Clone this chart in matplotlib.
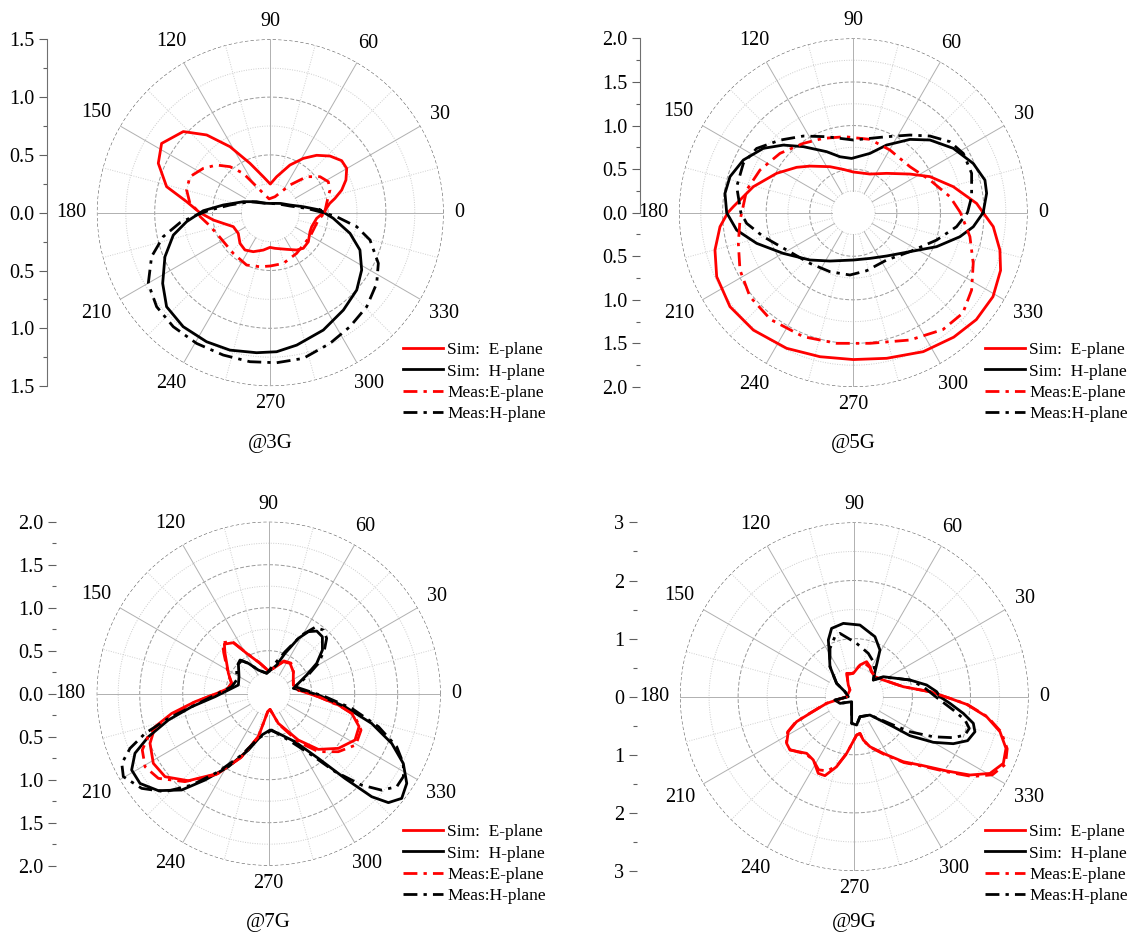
import numpy as np
import matplotlib
matplotlib.use("Agg")
import matplotlib.pyplot as plt
import matplotlib.transforms as mtransforms
from matplotlib.ticker import MultipleLocator, FuncFormatter

plt.rcParams['font.family'] = ['Liberation Serif', 'DejaVu Serif']

# ---------------- data (angle in degrees, normalized gain) ----------------
# @3G
theta_3g_sim_e = [0, 8.9, 12.5, 17.6, 23.4, 30.1, 36.1, 43.5, 51.1, 58.7, 67.6, 80, 90, 101, 112.4, 121.4, 129.3,
                  137, 147.5, 156.2, 165.9, 172.5, 180, 187.3, 192.8, 200.7, 212.9, 225.3, 235.8, 246.4, 259.4,
                  269.4, 277.5, 294, 305.2, 312.8, 322.6, 334.4, 341.3, 353]
r_3g_sim_e = [0.46, 0.52, 0.573, 0.648, 0.713, 0.764, 0.764, 0.712, 0.638, 0.55, 0.446, 0.316, 0.248, 0.317, 0.462,
              0.669, 0.869, 1.029, 1.115, 1.059, 0.925, 0.73, 0.609, 0.497, 0.417, 0.342, 0.33, 0.373, 0.39, 0.368,
              0.329, 0.30, 0.311, 0.347, 0.395, 0.42, 0.414, 0.381, 0.378, 0.404]
theta_3g_meas_e = [0, 9.4, 20.8, 28.1, 35.9, 44.7, 54.6, 73.7, 95, 112.4, 120, 124.5, 131.2, 138.4, 146.5, 155.9,
                   164.8, 173.4, 180, 183, 190, 201, 227.7, 245.7, 259.2, 270, 284.4, 302.9, 328.8, 351.3]
r_3g_meas_e = [0.47, 0.494, 0.552, 0.569, 0.531, 0.443, 0.294, 0.144, 0.12, 0.197, 0.293, 0.413, 0.529, 0.621,
               0.695, 0.762, 0.75, 0.70, 0.61, 0.61, 0.55, 0.498, 0.476, 0.497, 0.476, 0.461, 0.453, 0.419, 0.401,
               0.42]
theta_3g_sim_h = [3.1, 10.3, 21.3, 41.9, 60, 90, 120, 141.2, 157.8, 170.7, 178.3, 186.1, 193, 202.7, 213.3, 222.2,
                  232.6, 243.7, 253.6, 264.4, 272.6, 281.3, 294.3, 306.9, 318.2, 327.9, 337.4, 345.5, 354.9]
r_3g_sim_h = [0.43, 0.29, 0.183, 0.12, 0.093, 0.08, 0.095, 0.152, 0.252, 0.412, 0.58, 0.728, 0.861, 0.988, 1.114,
              1.211, 1.241, 1.245, 1.239, 1.217, 1.204, 1.168, 1.114, 1.053, 1.003, 0.933, 0.84, 0.712, 0.547]
theta_3g_meas_h = [0, 6.8, 18.7, 50, 90, 130, 151.6, 169.2, 177.5, 181.8, 186.3, 192.6, 200.3, 210.1, 219.6, 229.6,
                   240.6, 251.7, 262.2, 272.4, 282.8, 294.5, 304.9, 315.7, 326.4, 334.9, 344.7, 350.8, 356.5]
r_3g_meas_h = [0.46, 0.317, 0.18, 0.1, 0.08, 0.11, 0.2, 0.355, 0.523, 0.638, 0.786, 0.949, 1.095, 1.22, 1.276,
               1.295, 1.298, 1.297, 1.301, 1.299, 1.292, 1.243, 1.203, 1.165, 1.105, 1.032, 0.894, 0.757, 0.575]

# @5G
theta_5g_sim_e = [0, 4.3, 14.6, 25.2, 34.3, 49.7, 66.7, 90, 103, 116.9, 132.9, 141.3, 152.8, 165.4, 177.1, 180,
                  186, 195.1, 205.1, 217.3, 229.6, 243.8, 257, 270, 282.9, 296.7, 308.9, 319, 329, 338.6, 345.7,
                  354.3]
r_5g_sim_e = [1.49, 1.419, 1.185, 0.972, 0.787, 0.592, 0.483, 0.467, 0.51, 0.592, 0.73, 0.833, 0.989, 1.185, 1.378,
              1.44, 1.538, 1.644, 1.731, 1.779, 1.769, 1.734, 1.696, 1.685, 1.714, 1.785, 1.835, 1.870, 1.870,
              1.815, 1.736, 1.614]
theta_5g_meas_e = [0, 9.4, 23.1, 39.1, 59.7, 77.2, 96.3, 112, 125.8, 141, 155.4, 168, 180, 183.7, 194.9, 206.8,
                   219.1, 232.2, 248, 262.7, 270, 277.3, 294, 307.5, 317.5, 326.8, 337.1, 348.4]
r_5g_meas_e = [1.23, 1.124, 0.956, 0.837, 0.833, 0.863, 0.877, 0.92, 0.981, 1.082, 1.177, 1.251, 1.28, 1.303,
               1.365, 1.457, 1.528, 1.550, 1.534, 1.511, 1.499, 1.511, 1.599, 1.690, 1.705, 1.622, 1.494, 1.366]
theta_5g_sim_h = [0, 8.3, 13.9, 22.3, 32.8, 43.5, 52.3, 63.8, 74.3, 91.8, 103.4, 113.6, 127.1, 136, 144.4, 154.4,
                  163.7, 171.4, 180, 188.5, 197.6, 210.2, 227.5, 244.2, 270, 290, 307.6, 325.5, 337.8, 347.3, 353.3]
r_5g_sim_h = [1.49, 1.546, 1.556, 1.488, 1.364, 1.212, 1.063, 0.865, 0.707, 0.623, 0.66, 0.764, 0.95, 1.117, 1.269,
              1.399, 1.474, 1.489, 1.453, 1.353, 1.163, 0.929, 0.736, 0.616, 0.543, 0.558, 0.627, 0.789, 1.032,
              1.254, 1.386]
theta_5g_meas_h = [0, 7.7, 18.4, 28.3, 36.3, 45, 53.9, 66.3, 90, 109.3, 123.1, 135.3, 146.4, 155.8, 167.4, 180,
                   185.7, 194.9, 209.2, 229.5, 248.4, 266.9, 282.9, 305.2, 325.5, 341.8, 352.3]
r_5g_meas_h = [1.31, 1.37, 1.431, 1.434, 1.376, 1.244, 1.103, 0.952, 0.834, 0.924, 1.05, 1.184, 1.332, 1.383,
               1.371, 1.29, 1.23, 1.068, 0.877, 0.765, 0.728, 0.716, 0.683, 0.664, 0.789, 1.006, 1.196]

# @7G
theta_7g_sim_e = [7, 19.4, 30, 41.7, 54.9, 65.4, 79.6, 90.8, 105.9, 118.6, 124.7, 131.8, 137.3, 153.2, 164.4, 172.5,
                  178.9, 186.2, 191.5, 196.2, 202.7, 211.1, 218.7, 227.3, 237.7, 246.8, 256.5, 266.8, 274.9, 288,
                  302.6, 311.7, 321.9, 331.8, 340, 346.7, 350.8, 356.5]
r_7g_sim_e = [0.348, 0.304, 0.33, 0.384, 0.431, 0.409, 0.3, 0.267, 0.367, 0.534, 0.721, 0.774, 0.691, 0.525, 0.447,
              0.473, 0.585, 0.862, 1.151, 1.376, 1.496, 1.567, 1.544, 1.377, 1.096, 0.797, 0.514, 0.21, 0.183,
              0.363, 0.64, 0.867, 1.03, 1.139, 1.118, 0.992, 0.821, 0.579]
theta_7g_meas_e = [6.7, 19.4, 30, 41.7, 54, 65, 80, 91, 106, 118.5, 125, 132, 137.5, 153, 164, 172.5, 179.5, 187.2,
                   192.9, 197.8, 204, 210.6, 217.5, 226.4, 237, 246.5, 256.5, 266.8, 275, 288, 301.7, 310.6, 320.2,
                   329.5, 338.5, 346, 350.2, 356.5]
r_7g_meas_e = [0.37, 0.304, 0.33, 0.384, 0.44, 0.42, 0.3, 0.267, 0.37, 0.54, 0.74, 0.80, 0.71, 0.53, 0.45, 0.48,
               0.6, 0.902, 1.197, 1.449, 1.609, 1.67, 1.617, 1.412, 1.12, 0.81, 0.514, 0.21, 0.183, 0.37, 0.66,
               0.888, 1.054, 1.175, 1.154, 1.026, 0.842, 0.58]
theta_7g_sim_h = [6.3, 12.2, 19.2, 26.2, 32.3, 39.1, 46.7, 52.5, 57.4, 61.8, 68, 74.4, 95.6, 113.6, 123.8, 129.3,
                  135.6, 150.2, 164, 171.8, 183.2, 189.6, 194.7, 199.7, 204, 209.1, 214.9, 221.3, 227.9, 233.6,
                  241.1, 250.2, 260.4, 272.1, 283.7, 298.7, 307.5, 312, 315, 317.7, 321.8, 327, 332.6, 338, 343.9,
                  350.3, 358.5]
r_7g_sim_h = [0.386, 0.293, 0.365, 0.492, 0.66, 0.805, 0.91, 0.918, 0.856, 0.73, 0.506, 0.346, 0.238, 0.3, 0.425,
              0.496, 0.493, 0.398, 0.367, 0.435, 0.625, 0.908, 1.206, 1.486, 1.702, 1.824, 1.824, 1.708, 1.509,
              1.247, 0.97, 0.696, 0.488, 0.423, 0.475, 0.637, 0.948, 1.326, 1.694, 1.882, 1.968, 1.914, 1.763,
              1.543, 1.246, 0.9, 0.578]
theta_7g_meas_h = [5.8, 14.9, 24.1, 31.4, 38.1, 43.7, 49.3, 55.1, 60.6, 68.7, 95.6, 113.6, 123.8, 130.4, 139.8,
                   156.9, 169.3, 181.4, 189.6, 193.8, 197.8, 201.5, 205.4, 209.7, 216.7, 223.4, 229.9, 237.2, 246.2,
                   257, 274.7, 293, 305, 310.4, 315.5, 319.5, 324, 328.4, 332.6, 337.5, 343.3, 350, 357]
r_7g_meas_h = [0.425, 0.317, 0.484, 0.677, 0.823, 0.932, 0.976, 0.941, 0.783, 0.524, 0.24, 0.3, 0.425, 0.514,
               0.487, 0.405, 0.438, 0.624, 0.908, 1.201, 1.51, 1.733, 1.891, 1.946, 1.842, 1.659, 1.389, 1.079,
               0.779, 0.533, 0.424, 0.585, 0.871, 1.19, 1.516, 1.727, 1.84, 1.839, 1.763, 1.611, 1.332, 0.98, 0.656]

# @9G
theta_9g_sim_e = [3.8, 11.5, 29.9, 44, 55.3, 62.4, 70.6, 79.9, 92.5, 108.2, 117.2, 123, 180, 190.7, 193.5, 200.6,
                  203.4, 207.9, 214.6, 219.7, 229.9, 237.1, 244.8, 249.6, 255.8, 262.3, 273.5, 278.8, 281.7, 287.4,
                  297.1, 307, 315, 321.2, 325.9, 330.5, 335.9, 341.2, 346.5, 351.4, 356.1, 359]
r_9g_sim_e = [1.305, 0.861, 0.576, 0.495, 0.524, 0.583, 0.639, 0.554, 0.402, 0.423, 0.226, 0.137, 0.13, 0.31, 0.49,
              0.815, 1.082, 1.286, 1.415, 1.438, 1.274, 1.298, 1.458, 1.45, 1.243, 0.984, 0.661, 0.639, 0.762,
              0.902, 1.096, 1.401, 1.679, 2.04, 2.404, 2.682, 2.81, 2.758, 2.578, 2.304, 1.938, 1.647]
theta_9g_meas_e = [3.8, 11.5, 29.9, 44, 55, 62, 72, 82, 95, 108, 117, 123, 180, 190.7, 193.5, 200.6, 203.4, 207.9,
                   214.6, 219.7, 229.9, 237.1, 244, 250, 256, 262.3, 273.5, 278.8, 281.7, 287.4, 297.1, 307, 315,
                   321.2, 325.9, 330.5, 335.9, 341.2, 346.5, 351.4, 356.1, 359]
r_9g_meas_e = [1.30, 0.86, 0.58, 0.50, 0.52, 0.57, 0.60, 0.52, 0.40, 0.40, 0.23, 0.14, 0.13, 0.31, 0.50, 0.83, 1.10,
               1.30, 1.42, 1.43, 1.29, 1.30, 1.40, 1.36, 1.22, 0.99, 0.66, 0.64, 0.77, 0.91, 1.11, 1.42, 1.70,
               2.07, 2.45, 2.73, 2.85, 2.78, 2.60, 2.32, 1.95, 1.65]
theta_9g_sim_h = [0, 3.5, 9.2, 16.7, 23.4, 34.6, 41.3, 50, 56, 61.2, 71, 85.5, 98.5, 108.4, 114.6, 120, 129, 143,
                  151.8, 180, 189.8, 205, 242, 264.3, 274.7, 285.8, 310.5, 322.4, 325, 330, 334.6, 338.8, 343.8,
                  347.4, 351.3, 356]
r_9g_sim_h = [1.474, 1.42, 1.261, 1.0, 0.794, 0.606, 0.435, 0.55, 0.70, 0.917, 1.092, 1.237, 1.276, 1.239, 1.073,
              0.86, 0.665, 0.381, 0.182, 0.103, 0.338, 0.272, 0.098, 0.461, 0.489, 0.358, 0.415, 0.847, 1.17, 1.57,
              1.886, 2.092, 2.162, 2.099, 1.898, 1.651]
theta_9g_meas_h = [0, 8.2, 16.7, 23.4, 34, 41.3, 50, 61.5, 72.1, 87.5, 102.8, 107.9, 116.7, 129, 143, 151.8, 180,
                   189.8, 205, 242, 264.3, 274.7, 285.8, 310.5, 324, 327.8, 333.1, 337.5, 340.9, 344.6, 348.1, 352.3,
                   357.8]
r_9g_meas_h = [1.40, 1.2, 1.0, 0.794, 0.6, 0.435, 0.55, 0.686, 0.784, 0.919, 1.118, 1.085, 0.931, 0.665, 0.381,
               0.182, 0.103, 0.338, 0.272, 0.098, 0.461, 0.489, 0.358, 0.415, 0.83, 1.132, 1.524, 1.844, 2.016,
               2.053, 1.947, 1.72, 1.475]

panel_titles = ['@3G', '@5G', '@7G', '@9G']
panel_rmax = [1.5, 2.0, 2.0, 3.0]
legend_labels = ['Sim:  E-plane', 'Sim:  H-plane', 'Meas:E-plane', 'Meas:H-plane']
angle_ticks = list(range(0, 360, 30))

# ---------------- layout (pixels of a 1135 x 933 canvas) ----------------
W, H = 1135, 933
fig = plt.figure(figsize=(W / 100, H / 100), dpi=100)

panels = [
    dict(cx=270.3, cy=212.7, R=173.4, axis_x=47.3, major=0.5, minor=0.25, fmt='%.1f', spine='full',
         title_y=448, leg=(403, 342),
         series=[(theta_3g_sim_e, r_3g_sim_e), (theta_3g_sim_h, r_3g_sim_h),
                 (theta_3g_meas_e, r_3g_meas_e), (theta_3g_meas_h, r_3g_meas_h)]),
    dict(cx=853.3, cy=212.7, R=174.3, axis_x=639.5, major=0.5, minor=0.25, fmt='%.1f', spine='upper',
         title_y=448, leg=(985, 342),
         series=[(theta_5g_sim_e, r_5g_sim_e), (theta_5g_sim_h, r_5g_sim_h),
                 (theta_5g_meas_e, r_5g_meas_e), (theta_5g_meas_h, r_5g_meas_h)]),
    dict(cx=268.7, cy=693.7, R=172.0, axis_x=55.5, major=0.5, minor=0.25, fmt='%.1f', spine='none',
         title_y=927, leg=(403, 824),
         series=[(theta_7g_sim_e, r_7g_sim_e), (theta_7g_sim_h, r_7g_sim_h),
                 (theta_7g_meas_e, r_7g_meas_e), (theta_7g_meas_h, r_7g_meas_h)]),
    dict(cx=854.3, cy=696.7, R=174.3, axis_x=636.5, major=1.0, minor=0.5, fmt='%d', spine='none',
         title_y=927, leg=(985, 824),
         series=[(theta_9g_sim_e, r_9g_sim_e), (theta_9g_sim_h, r_9g_sim_h),
                 (theta_9g_meas_e, r_9g_meas_e), (theta_9g_meas_h, r_9g_meas_h)]),
]

styles = [dict(color='#ff0000', ls='-'),
          dict(color='#000000', ls='-'),
          dict(color='#ff0000', ls=(0, (5, 2.2, 1.2, 2.2))),
          dict(color='#000000', ls=(0, (5, 2.2, 1.2, 2.2)))]

TICK_FS = 14.5
LEG_FS = 12.5
circle = np.linspace(0, 2 * np.pi, 721)

for i, p in enumerate(panels):
    rmax = panel_rmax[i]
    cx, cy, R = p['cx'], p['cy'], p['R']
    box = [(cx - R) / W, 1 - (cy + R) / H, 2 * R / W, 2 * R / H]
    ax = fig.add_axes(box, projection='polar')
    ax.set_autoscale_on(False)
    ax.set_ylim(0, rmax)
    ax.set_xticks([])
    ax.set_yticks([])
    ax.grid(False)
    ax.spines['polar'].set_visible(False)
    ax.patch.set_alpha(0)

    r0 = p['minor']  # spokes start at the first minor ring
    nr = int(round(rmax / p['minor']))
    for k in range(1, nr + 1):
        rv = k * p['minor']
        if k == nr:
            ax.plot(circle, np.full_like(circle, rv), color='#606060', lw=0.8, ls=(0, (3, 2)), zorder=1)
        elif abs(rv / p['major'] - round(rv / p['major'])) < 1e-6:
            ax.plot(circle, np.full_like(circle, rv), color='#9a9a9a', lw=0.7, ls=(0, (4, 2)), zorder=1)
        else:
            ax.plot(circle, np.full_like(circle, rv), color='#cccccc', lw=0.7, ls=(0, (1, 1.5)), zorder=1)
    for a in range(0, 360, 15):
        t = np.radians(a)
        if a % 30 == 0:
            ax.plot([t, t], [r0, rmax], color='#b0b0b0', lw=0.7, zorder=1)
        else:
            ax.plot([t, t], [r0, rmax], color='#cfcfcf', lw=0.7, ls=(0, (1, 1.5)), zorder=1)

    handles = []
    for (th, rr), st in zip(p['series'], styles):
        th = np.radians(np.r_[th, th[0] + 360.0])
        rr = np.r_[rr, rr[0]]
        ln, = ax.plot(th, rr, color=st['color'], ls=st['ls'], lw=2.0, zorder=3,
                      solid_joinstyle='round', dash_joinstyle='round')
        handles.append(ln)

    for a in angle_ticks:
        t = np.radians(a)
        w = 10.0 * len(str(a))
        g = 11 + abs(np.cos(t)) * w / 2 + abs(np.sin(t)) * 6.5
        tr = mtransforms.offset_copy(ax.transData, fig=fig, x=g * np.cos(t) * 0.72,
                                     y=g * np.sin(t) * 0.72, units='points')
        ax.text(t, rmax, str(a), transform=tr, ha='center', va='center', fontsize=TICK_FS)

    lax = fig.add_axes([p['axis_x'] / W, box[1], 0.0001, box[3]])
    lax.set_ylim(-rmax, rmax)
    lax.patch.set_visible(False)
    for s in ['top', 'right', 'bottom']:
        lax.spines[s].set_visible(False)
    lax.spines['left'].set_color('#707070')
    lax.spines['left'].set_linewidth(0.8)
    if p['spine'] == 'upper':
        lax.spines['left'].set_bounds(0, rmax)
    elif p['spine'] == 'none':
        lax.spines['left'].set_visible(False)
    lax.set_xticks([])
    lax.yaxis.set_major_locator(MultipleLocator(p['major']))
    lax.yaxis.set_minor_locator(MultipleLocator(p['minor']))
    fmt = p['fmt']
    lax.yaxis.set_major_formatter(FuncFormatter(lambda v, pos, fmt=fmt: fmt % abs(round(v, 6))))
    lax.tick_params(axis='y', which='major', length=6, width=0.8, color='#606060',
                    labelsize=TICK_FS, pad=3)
    lax.tick_params(axis='y', which='minor', length=3, width=0.8, color='#606060')

    fig.text(cx / W, 1 - p['title_y'] / H, panel_titles[i], ha='center', va='baseline', fontsize=15)

    lx, ly = p['leg']
    fig.legend(handles, legend_labels, loc='upper left', bbox_to_anchor=(lx / W, 1 - ly / H),
               frameon=False, fontsize=LEG_FS, handlelength=2.3, handletextpad=0.25,
               labelspacing=0.3, borderpad=0, borderaxespad=0)

fig.savefig('out.png', dpi=100, facecolor='white')
